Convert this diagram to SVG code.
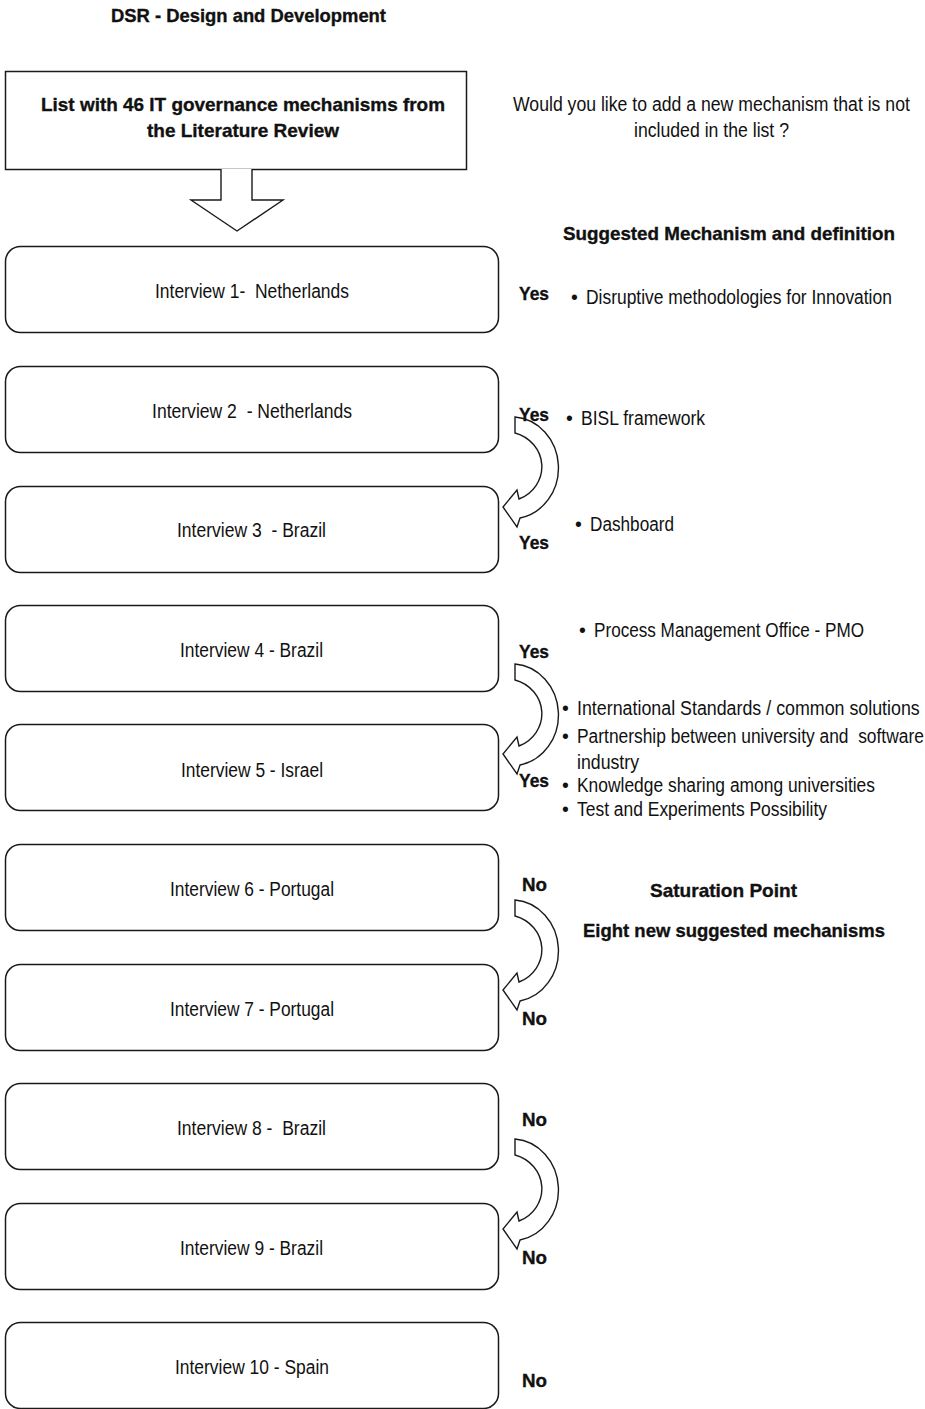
<svg xmlns="http://www.w3.org/2000/svg" width="925" height="1409" viewBox="0 0 925 1409">
  <style>
    .box { fill: #ffffff; stroke: #1a1a1a; stroke-width: 1.5; }
    .arrow { fill: #ffffff; stroke: #1a1a1a; stroke-width: 1.4; stroke-linejoin: miter; }
    .t { font-family: "Liberation Sans Narrow", "Liberation Sans", Arial, sans-serif; font-size: 19.5px; fill: #111111; white-space: pre; }
    .b { font-family: "Liberation Sans", Arial, sans-serif; font-weight: bold; font-size: 19px; fill: #111111; stroke: #111111; stroke-width: 0.35; white-space: pre; }
  </style>
  <defs>
    <!-- curved "next interview" arrow, top of tail at y=0 -->
    <path id="curl" d="M515,0 A47,51 0 0 1 520,101 L517,110 L503,90 L517,73 L519,82 A37,35 0 0 0 515,16 Z"/>
  </defs>
  <rect width="925" height="1409" fill="#ffffff"/>

  <text id="title" class="b" x="111" y="22" textLength="275" lengthAdjust="spacingAndGlyphs">DSR - Design and Development</text>

  <g id="literature-list">
    <rect class="box" x="5.5" y="71.5" width="461" height="98"/>
    <text class="b" x="41" y="111" textLength="404" lengthAdjust="spacingAndGlyphs">List with 46 IT governance mechanisms from</text>
    <text class="b" x="147" y="137" textLength="192" lengthAdjust="spacingAndGlyphs">the Literature Review</text>
  </g>

  <g id="question">
    <text class="t" transform="translate(513,111) scale(0.82,1)" x="0" y="0" textLength="484" lengthAdjust="spacingAndGlyphs">Would you like to add a new mechanism that is not</text>
    <text class="t" x="634" y="137" textLength="155" lengthAdjust="spacingAndGlyphs">included in the list ?</text>
  </g>

  <g id="connectors">
    <path class="arrow" d="M221,169 L221,200 L191,200 L237,231 L283,200 L252,200 L252,169"/>
    <use href="#curl" class="arrow" transform="translate(0,417)"/>
    <use href="#curl" class="arrow" transform="translate(0,664)"/>
    <use href="#curl" class="arrow" transform="translate(0,900)"/>
    <use href="#curl" class="arrow" transform="translate(0,1139)"/>
  </g>

  <g id="interview-1">
    <rect class="box" x="5.5" y="246.5" width="493" height="86" rx="15"/>
    <text class="t" x="155" y="298" textLength="194" lengthAdjust="spacingAndGlyphs">Interview 1-  Netherlands</text>
  </g>
  <g id="interview-2">
    <rect class="box" x="5.5" y="366.5" width="493" height="86" rx="15"/>
    <text class="t" x="152" y="418" textLength="200" lengthAdjust="spacingAndGlyphs">Interview 2  - Netherlands</text>
  </g>
  <g id="interview-3">
    <rect class="box" x="5.5" y="486.5" width="493" height="86" rx="15"/>
    <text class="t" x="177" y="537" textLength="149" lengthAdjust="spacingAndGlyphs">Interview 3  - Brazil</text>
  </g>
  <g id="interview-4">
    <rect class="box" x="5.5" y="605.5" width="493" height="86" rx="15"/>
    <text class="t" x="180" y="657" textLength="143" lengthAdjust="spacingAndGlyphs">Interview 4 - Brazil</text>
  </g>
  <g id="interview-5">
    <rect class="box" x="5.5" y="724.5" width="493" height="86" rx="15"/>
    <text class="t" x="181" y="777" textLength="142" lengthAdjust="spacingAndGlyphs">Interview 5 - Israel</text>
  </g>
  <g id="interview-6">
    <rect class="box" x="5.5" y="844.5" width="493" height="86" rx="15"/>
    <text class="t" x="170" y="896" textLength="164" lengthAdjust="spacingAndGlyphs">Interview 6 - Portugal</text>
  </g>
  <g id="interview-7">
    <rect class="box" x="5.5" y="964.5" width="493" height="86" rx="15"/>
    <text class="t" x="170" y="1016" textLength="164" lengthAdjust="spacingAndGlyphs">Interview 7 - Portugal</text>
  </g>
  <g id="interview-8">
    <rect class="box" x="5.5" y="1083.5" width="493" height="86" rx="15"/>
    <text class="t" x="177" y="1135" textLength="149" lengthAdjust="spacingAndGlyphs">Interview 8 -  Brazil</text>
  </g>
  <g id="interview-9">
    <rect class="box" x="5.5" y="1203.5" width="493" height="86" rx="15"/>
    <text class="t" x="180" y="1255" textLength="143" lengthAdjust="spacingAndGlyphs">Interview 9 - Brazil</text>
  </g>
  <g id="interview-10">
    <rect class="box" x="5.5" y="1322.5" width="493" height="86" rx="15"/>
    <text class="t" x="175" y="1374" textLength="154" lengthAdjust="spacingAndGlyphs">Interview 10 - Spain</text>
  </g>

  <g id="answers">
    <text class="b" x="519" y="300" textLength="30" lengthAdjust="spacingAndGlyphs">Yes</text>
    <text class="b" x="519" y="421" textLength="30" lengthAdjust="spacingAndGlyphs">Yes</text>
    <text class="b" x="519" y="549" textLength="30" lengthAdjust="spacingAndGlyphs">Yes</text>
    <text class="b" x="519" y="658" textLength="30" lengthAdjust="spacingAndGlyphs">Yes</text>
    <text class="b" x="519" y="787" textLength="30" lengthAdjust="spacingAndGlyphs">Yes</text>
    <text class="b" x="522" y="891" textLength="25" lengthAdjust="spacingAndGlyphs">No</text>
    <text class="b" x="522" y="1025" textLength="25" lengthAdjust="spacingAndGlyphs">No</text>
    <text class="b" x="522" y="1126" textLength="25" lengthAdjust="spacingAndGlyphs">No</text>
    <text class="b" x="522" y="1264" textLength="25" lengthAdjust="spacingAndGlyphs">No</text>
    <text class="b" x="522" y="1387" textLength="25" lengthAdjust="spacingAndGlyphs">No</text>
  </g>

  <g id="suggested-mechanisms">
    <text class="b" x="563" y="240" textLength="332" lengthAdjust="spacingAndGlyphs">Suggested Mechanism and definition</text>
    <text class="t" x="571" y="304">•</text>
    <text class="t" transform="translate(586,304) scale(0.82,1)" x="0" y="0" textLength="373" lengthAdjust="spacingAndGlyphs">Disruptive methodologies for Innovation</text>
    <text class="t" x="566" y="425">•</text>
    <text class="t" x="581" y="425" textLength="124" lengthAdjust="spacingAndGlyphs">BISL framework</text>
    <text class="t" x="575" y="531">•</text>
    <text class="t" x="590" y="531" textLength="84" lengthAdjust="spacingAndGlyphs">Dashboard</text>
    <text class="t" x="579" y="637">•</text>
    <text class="t" x="594" y="637" textLength="270" lengthAdjust="spacingAndGlyphs">Process Management Office - PMO</text>
    <text class="t" x="562" y="715">•</text>
    <text class="t" transform="translate(577,715) scale(0.82,1)" x="0" y="0" textLength="418" lengthAdjust="spacingAndGlyphs">International Standards / common solutions</text>
    <text class="t" x="562" y="743">•</text>
    <text class="t" transform="translate(577,743) scale(0.82,1)" x="0" y="0" textLength="423" lengthAdjust="spacingAndGlyphs">Partnership between university and  software</text>
    <text class="t" x="577" y="769" textLength="62" lengthAdjust="spacingAndGlyphs">industry</text>
    <text class="t" x="562" y="792">•</text>
    <text class="t" x="577" y="792" textLength="298" lengthAdjust="spacingAndGlyphs">Knowledge sharing among universities</text>
    <text class="t" x="562" y="816">•</text>
    <text class="t" x="577" y="816" textLength="250" lengthAdjust="spacingAndGlyphs">Test and Experiments Possibility</text>
  </g>

  <g id="saturation">
    <text class="b" x="650" y="897" textLength="147" lengthAdjust="spacingAndGlyphs">Saturation Point</text>
    <text class="b" x="583" y="937" textLength="302" lengthAdjust="spacingAndGlyphs">Eight new suggested mechanisms</text>
  </g>
</svg>
